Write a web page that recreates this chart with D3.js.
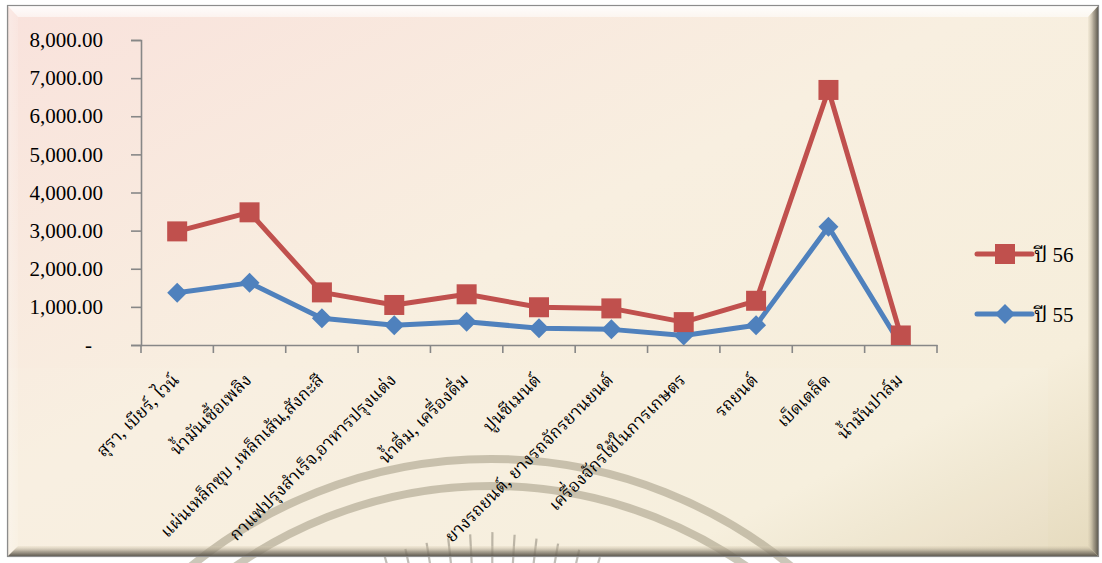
<!DOCTYPE html>
<html>
<head>
<meta charset="utf-8">
<script src="https://cdn.jsdelivr.net/npm/d3@7"></script>
<style>
html,body{margin:0;padding:0;background:#ffffff;}
svg{display:block;}
</style>
</head>
<body>
<svg id="chart" width="1102" height="563"></svg>
<script>
const categories = ["สุรา, เบียร์, ไวน์", "น้ำมันเชื้อเพลิง", "แผ่นเหล็กชุบ ,เหล็กเส้น,สังกะสี", "กาแฟปรุงสำเร็จ,อาหารปรุงแต่ง", "น้ำดื่ม, เครื่องดื่ม", "ปูนซีเมนต์", "ยางรถยนต์, ยางรถจักรยานยนต์", "เครื่องจักรใช้ในการเกษตร", "รถยนต์", "เบ็ดเตล็ด", "น้ำมันปาล์ม"];
const year56 = [2980, 3480, 1380, 1050, 1330, 990, 960, 600, 1160, 6690, 250];
const year55 = [1370, 1630, 700, 520, 610, 440, 410, 250, 520, 3100, 0];
const seriesNames = ["ปี 56", "ปี 55"];
const yTicks = [0, 1000, 2000, 3000, 4000, 5000, 6000, 7000, 8000];

const SERIF = '"Liberation Serif","Noto Serif Thai","Times New Roman",serif';
const THAI = '"Noto Serif Thai","Liberation Serif",serif';

const svg = d3.select("#chart");
const defs = svg.append("defs");

const bg = defs.append("linearGradient").attr("id","bg").attr("x1","0").attr("y1","0").attr("x2","1").attr("y2","1");
bg.append("stop").attr("offset","0").attr("stop-color","#f9e2dc");
bg.append("stop").attr("offset","0.45").attr("stop-color","#f8efe0");
bg.append("stop").attr("offset","0.8").attr("stop-color","#f6eedb");
bg.append("stop").attr("offset","1").attr("stop-color","#e5dabd");

function grad(id, x2, y2, stops){
  const g = defs.append("linearGradient").attr("id",id).attr("x1","0").attr("y1","0").attr("x2",x2).attr("y2",y2);
  stops.forEach(s=>g.append("stop").attr("offset",s[0]).attr("stop-color",s[1]).attr("stop-opacity",s[2]===undefined?1:s[2]));
}
grad("bTop","0","1",[[0,"#ffffff",0.95],[1,"#ffffff",0.55]]);
grad("bLeft","1","0",[[0,"#9c948c",0.6],[0.25,"#ffffff",0.25],[1,"#ffffff",0.1]]);
grad("bRight","1","0",[[0,"#d8ccb0",0.2],[0.5,"#8a8272",0.7],[1,"#4a463e",1]]);
grad("bBottom","0","1",[[0,"#d8ccb0",0.2],[0.5,"#8a8272",0.7],[1,"#4a463e",1]]);

const L=7, T=5, R=1099, B=557, bw=11;
svg.append("rect").attr("x",L).attr("y",T).attr("width",R-L).attr("height",B-T).attr("fill","url(#bg)");
svg.append("rect").attr("x",L).attr("y",368).attr("width",1048-L).attr("height",B-368).attr("fill","#ffffff").attr("opacity",0.06);

// watermark arcs and rays
const wm = svg.append("g").attr("opacity",0.6);
const cx0 = 491, cy0 = 932;
[[473, 8],[446, 8]].forEach(([r,w])=>{
  wm.append("circle").attr("cx",cx0).attr("cy",cy0).attr("r",r).attr("fill","none")
    .attr("stroke","#aaa28b").attr("stroke-width",w);
});
d3.range(-19, 20, 3.2).forEach(a=>{
  const t = a*Math.PI/180;
  const r1 = 360, r2 = 400 - Math.abs(a)*0.6;
  wm.append("line")
    .attr("x1",cx0+r1*Math.sin(t)).attr("y1",cy0-r1*Math.cos(t))
    .attr("x2",cx0+r2*Math.sin(t)).attr("y2",cy0-r2*Math.cos(t))
    .attr("stroke","#6e685a").attr("stroke-width",2.2).attr("opacity",0.7);
});

// bevel frame
svg.append("polygon").attr("points",`${L},${T} ${R},${T} ${R-bw},${T+bw+1} ${L+bw},${T+bw+1}`).attr("fill","url(#bTop)");
svg.append("polygon").attr("points",`${L},${T} ${L+bw},${T+bw+1} ${L+bw},${B-bw} ${L},${B}`).attr("fill","url(#bLeft)");
svg.append("polygon").attr("points",`${R},${T} ${R-bw},${T+bw+1} ${R-bw},${B-bw} ${R},${B}`).attr("fill","url(#bRight)");
svg.append("polygon").attr("points",`${L},${B} ${L+bw},${B-bw} ${R-bw},${B-bw} ${R},${B}`).attr("fill","url(#bBottom)");
svg.append("rect").attr("x",L+0.5).attr("y",T+0.5).attr("width",R-L-1).attr("height",B-T-1).attr("fill","none").attr("stroke","#8c8c8c").attr("stroke-width",1.2);

// plot
const pL=141, pR=937, pT=40, pB=345;
const x = d3.scaleBand().domain(categories).range([pL,pR]).padding(0);
const y = d3.scaleLinear().domain([0,8000]).range([pB,pT]);

defs.append("clipPath").attr("id","plotclip").append("rect")
  .attr("x",pL-20).attr("y",0).attr("width",pR-pL+40).attr("height",pB);

// y axis
const yAxis = d3.axisLeft(y).tickValues(yTicks).tickSize(10).tickPadding(28)
  .tickFormat(d => d===0 ? "-" : d3.format(",.2f")(d));
const gy = svg.append("g").attr("transform",`translate(${pL},0)`).call(yAxis);
gy.select(".domain").attr("stroke","#878787").attr("stroke-width",1.6);
gy.selectAll(".tick line").attr("stroke","#878787").attr("stroke-width",1.6);
gy.selectAll(".tick text").style("font-size","21px").style("font-family",SERIF).attr("fill","#000")
  .attr("dx", d => d===0 ? -11 : 0);

// x axis
const xAxis = d3.axisBottom(x).tickSize(0).tickFormat("");
const gx = svg.append("g").attr("transform",`translate(0,${pB})`).call(xAxis);
gx.select(".domain").attr("stroke","#878787").attr("stroke-width",1.6);
const bounds = categories.map(c=>x(c)).concat([x.range()[1]]);
gx.selectAll(".bt").data(bounds).enter().append("line").attr("class","bt")
  .attr("x1",d=>d).attr("x2",d=>d).attr("y1",0).attr("y2",8)
  .attr("stroke","#878787").attr("stroke-width",1.6);

// x labels
svg.append("g").selectAll("text").data(categories).enter().append("text")
  .attr("transform", d => `translate(${x(d)+x.bandwidth()/2+3},${pB+36}) rotate(-45)`)
  .attr("text-anchor","end")
  .style("font-size","17.5px").style("font-family",THAI).attr("fill","#000")
  .text(d=>d);

// series
const colors = {"ปี 56":"#c0504d","ปี 55":"#4f81bd"};
const cxp = c => x(c)+x.bandwidth()/2;
const line = d3.line().x(d=>cxp(d.c)).y(d=>y(d.v));
const s55 = categories.map((c,i)=>({c, v:year55[i]}));
const s56 = categories.map((c,i)=>({c, v:year56[i]}));
const plotG = svg.append("g").attr("clip-path","url(#plotclip)");

plotG.append("path").datum(s55).attr("d",line).attr("fill","none").attr("stroke",colors["ปี 55"]).attr("stroke-width",5).attr("stroke-linejoin","round");
plotG.selectAll(".m55").data(s55).enter().append("path").attr("class","m55")
  .attr("d", d3.symbol().type(d3.symbolSquare).size(200)())
  .attr("transform", d=>`translate(${cxp(d.c)},${y(d.v)}) rotate(45)`)
  .attr("fill",colors["ปี 55"]);

plotG.append("path").datum(s56).attr("d",line).attr("fill","none").attr("stroke",colors["ปี 56"]).attr("stroke-width",5).attr("stroke-linejoin","round");
plotG.selectAll(".m56").data(s56).enter().append("rect").attr("class","m56")
  .attr("x",d=>cxp(d.c)-10).attr("y",d=>y(d.v)-10).attr("width",20).attr("height",20)
  .attr("fill",colors["ปี 56"]);

// legend
const leg = svg.append("g");
const legItems = [{n:seriesNames[0], y:254, t:"sq"},{n:seriesNames[1], y:314, t:"di"}];
legItems.forEach(it=>{
  leg.append("line").attr("x1",977).attr("x2",1032).attr("y1",it.y).attr("y2",it.y)
    .attr("stroke",colors[it.n]).attr("stroke-width",5).attr("stroke-linecap","round");
  if(it.t==="sq"){
    leg.append("rect").attr("x",995).attr("y",it.y-10).attr("width",20).attr("height",20).attr("fill",colors[it.n]);
  } else {
    leg.append("path").attr("d", d3.symbol().type(d3.symbolSquare).size(200)())
      .attr("transform",`translate(1005,${it.y}) rotate(45)`).attr("fill",colors[it.n]);
  }
  const parts = it.n.split(" ");
  const t = leg.append("text").attr("x",1034).attr("y",it.y+8).style("font-size","21px").attr("fill","#000");
  t.append("tspan").style("font-family",THAI).text(parts[0]);
  t.append("tspan").style("font-family",SERIF).text(" " + parts[1]);
});
</script>
</body>
</html>
